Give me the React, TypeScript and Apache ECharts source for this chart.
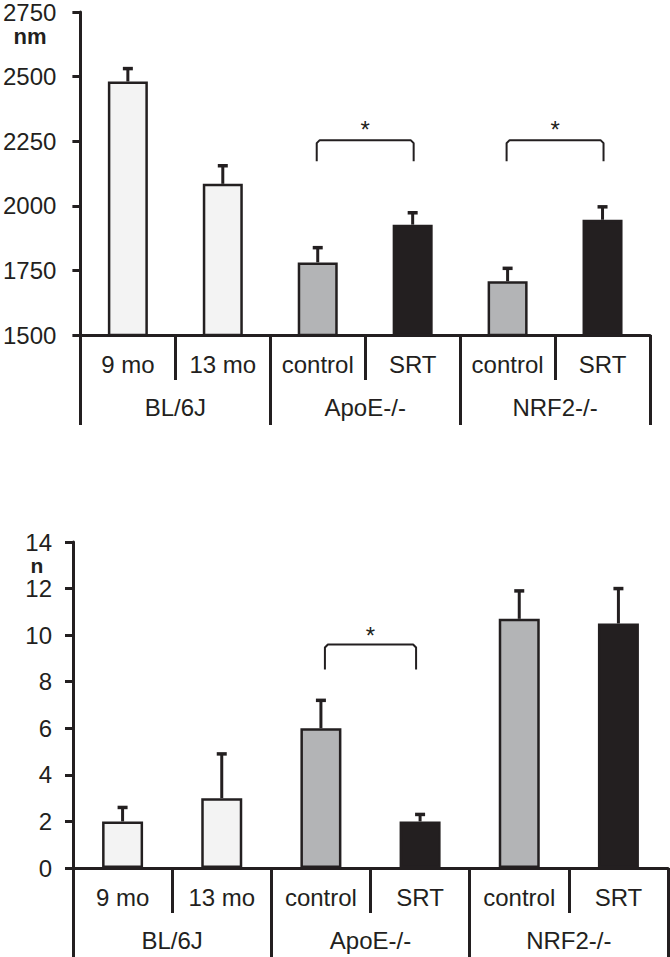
import React, { useEffect, useRef } from "react";
import * as echarts from "echarts";

const subCategories = ["9 mo", "13 mo", "control", "SRT", "control", "SRT"];
const groupCategories = ["BL/6J", "ApoE-/-", "NRF2-/-"];
const barColors = ["#f3f3f3", "#f3f3f3", "#b3b4b6", "#231f20", "#b3b4b6", "#231f20"];

// Top panel (nm)
const topMeans = [2481, 2085, 1781, 1927, 1708, 1946];
const topErrors = [50, 70, 57, 46, 50, 50];
const topTicks = { min: 1500, max: 2750, interval: 250 };
const topSig = [
  [2, 3, 2254],
  [4, 5, 2254],
];

// Bottom panel (n)
const bottomMeans = [2, 3, 6, 2, 10.7, 10.5];
const bottomErrors = [0.6, 1.9, 1.2, 0.3, 1.2, 1.5];
const bottomTicks = { min: 0, max: 14, interval: 2 };
const bottomSig = [[2, 3, 9.6]];

const INK = "#231f20";
const FONT = "'Liberation Sans', Arial, sans-serif";

function makeXAxes(gridIndex: number) {
  return [
    {
      type: "category",
      gridIndex,
      data: subCategories,
      position: "bottom",
      boundaryGap: true,
      axisLine: { show: true, onZero: false, lineStyle: { color: INK, width: 3 } },
      axisTick: { show: true, length: 45, interval: 0, lineStyle: { color: INK, width: 3 } },
      axisLabel: { interval: 0, margin: 17, fontSize: 24, color: INK, fontFamily: FONT },
      splitLine: { show: false },
    },
    {
      type: "category",
      gridIndex,
      data: groupCategories,
      position: "bottom",
      boundaryGap: true,
      axisLine: { show: false, onZero: false },
      axisTick: { show: true, length: 90, interval: 0, lineStyle: { color: INK, width: 3 } },
      axisLabel: { interval: 0, margin: 60, fontSize: 24, color: INK, fontFamily: FONT },
      splitLine: { show: false },
    },
  ];
}

function makeYAxis(gridIndex: number, t: { min: number; max: number; interval: number }, margin: number) {
  return {
    type: "value",
    gridIndex,
    min: t.min,
    max: t.max,
    interval: t.interval,
    axisLine: { show: true, onZero: false, lineStyle: { color: INK, width: 3 } },
    axisTick: { show: true, length: 8, inside: false, lineStyle: { color: INK, width: 3 } },
    axisLabel: {
      margin,
      fontSize: 24,
      color: INK,
      fontFamily: FONT,
      formatter: (v: number) => String(v),
    },
    splitLine: { show: false },
  };
}

function errorRender(params: any, api: any) {
  const x = api.value(0);
  const v = api.value(1);
  const e = api.value(2);
  const p0 = api.coord([x, v]);
  const p1 = api.coord([x, v + e]);
  return {
    type: "group",
    children: [
      { type: "line", shape: { x1: p0[0], y1: p0[1], x2: p1[0], y2: p1[1] }, style: { stroke: INK, lineWidth: 3 } },
      { type: "line", shape: { x1: p1[0] - 5, y1: p1[1], x2: p1[0] + 5, y2: p1[1] }, style: { stroke: INK, lineWidth: 3.5 } },
    ],
  };
}

function makeBracketRender(inset: number, leg: number, starGap: number) {
  return (params: any, api: any) => {
    const a = api.value(0);
    const b = api.value(1);
    const y = api.value(2);
    const pa = api.coord([a, y]);
    const pb = api.coord([b, y]);
    const xa = pa[0] + inset;
    const xb = pb[0] - inset;
    const yy = pa[1];
    return {
      type: "group",
      children: [
        {
          type: "polyline",
          shape: { points: [[xa, yy + leg], [xa, yy + 3], [xa + 3, yy], [xb - 3, yy], [xb, yy + 3], [xb, yy + leg]] },
          style: { stroke: INK, lineWidth: 2, fill: "none", lineJoin: "round" },
        },
        {
          type: "text",
          x: (xa + xb) / 2,
          y: yy - starGap,
          style: { text: "*", fontSize: 24, fontFamily: FONT, fill: INK, align: "center", verticalAlign: "middle" },
        },
      ],
    };
  };
}

export default function App() {
  const ref = useRef<HTMLDivElement>(null);
  useEffect(() => {
    document.body.style.margin = "0";
    if (!ref.current) return;
    const chart = echarts.init(ref.current, null, { renderer: "svg" });
    const barData = (means: number[]) =>
      means.map((v, i) => ({ value: v, itemStyle: { color: barColors[i] } }));
    chart.setOption({
      animation: false,
      backgroundColor: "#ffffff",
      grid: [
        { left: 77, top: 10, right: 20, height: 325, containLabel: false },
        { left: 73, top: 542, right: 2, height: 326, containLabel: false },
      ],
      xAxis: [...makeXAxes(0), ...makeXAxes(1)],
      yAxis: [makeYAxis(0, topTicks, 24), makeYAxis(1, bottomTicks, 21)],
      graphic: [
        {
          type: "text",
          x: 30,
          y: 36,
          style: { text: "nm", fontSize: 22, fontWeight: "bold", fontFamily: FONT, fill: INK, align: "center", verticalAlign: "middle" },
        },
        {
          type: "text",
          x: 37,
          y: 565,
          style: { text: "n", fontSize: 21, fontWeight: "bold", fontFamily: FONT, fill: INK, align: "center", verticalAlign: "middle" },
        },
      ],
      series: [
        {
          type: "bar",
          xAxisIndex: 0,
          yAxisIndex: 0,
          data: barData(topMeans),
          barWidth: 40,
          itemStyle: { borderColor: INK, borderWidth: 2.5 },
          z: 2,
        },
        {
          type: "custom",
          xAxisIndex: 0,
          yAxisIndex: 0,
          data: topMeans.map((v, i) => [i, v, topErrors[i]]),
          encode: { x: 0, y: 1 },
          renderItem: errorRender,
          z: 3,
        },
        {
          type: "custom",
          xAxisIndex: 0,
          yAxisIndex: 0,
          data: topSig,
          encode: { x: [0, 1], y: 2 },
          renderItem: makeBracketRender(-1, 21, 11),
          z: 3,
        },
        {
          type: "bar",
          xAxisIndex: 2,
          yAxisIndex: 1,
          data: barData(bottomMeans),
          barWidth: 41,
          itemStyle: { borderColor: INK, borderWidth: 2.5 },
          z: 2,
        },
        {
          type: "custom",
          xAxisIndex: 2,
          yAxisIndex: 1,
          data: bottomMeans.map((v, i) => [i, v, bottomErrors[i]]),
          encode: { x: 0, y: 1 },
          renderItem: errorRender,
          z: 3,
        },
        {
          type: "custom",
          xAxisIndex: 2,
          yAxisIndex: 1,
          data: bottomSig,
          encode: { x: [0, 1], y: 2 },
          renderItem: makeBracketRender(4, 25, 9),
          z: 3,
        },
      ],
    });
    return () => chart.dispose();
  }, []);
  return <div ref={ref} style={{ width: 670, height: 957 }} />;
}
